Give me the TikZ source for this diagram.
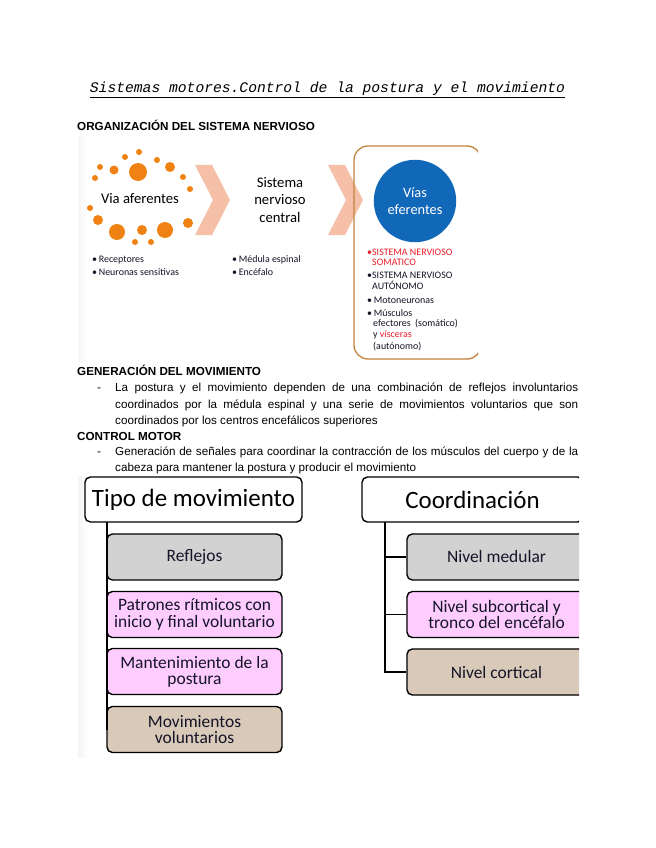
\documentclass[tikz,border=0pt]{standalone}
\usepackage{fontspec}
\setmainfont{Liberation Sans}
\newfontfamily\calfont{Carlito}
\newfontfamily\monofont{Liberation Mono}
\definecolor{dotor}{RGB}{240,130,20}
\definecolor{chev}{RGB}{246,192,168}
\definecolor{framec}{RGB}{196,128,56}
\definecolor{vblue}{RGB}{18,104,184}
\definecolor{vred}{RGB}{232,30,40}
\definecolor{bgray}{RGB}{210,210,210}
\definecolor{bpink}{RGB}{255,204,255}
\definecolor{btan}{RGB}{217,201,184}
\definecolor{bltext}{RGB}{20,20,40}
\tikzset{
  hd/.style={font=\bfseries\fontsize{10.9}{13}\selectfont, inner sep=0pt, anchor=base west},
  body/.style={font=\fontsize{10.9}{13}\selectfont, inner sep=0pt, anchor=base west},
  bigsm/.style={font=\calfont\fontsize{13.7}{15.9}\selectfont, align=center, inner sep=0pt},
  blt/.style={font=\calfont\fontsize{9.3}{10}\selectfont, inner sep=0pt, anchor=west, text=bltext},
  hdbox/.style={draw=black, line width=1.3pt, rounded corners=5pt, fill=white,
     minimum height=42pt, font=\calfont\fontsize{23.3}{26}\selectfont, inner sep=0pt},
  itbox/.style={draw=black, line width=1.3pt, rounded corners=5pt,
     minimum height=43pt, font=\calfont\fontsize{16.3}{15.2}\selectfont, align=center, inner sep=0pt, text=bltext},
  tree/.style={draw=black, line width=1.2pt}
}
\begin{document}
\begin{tikzpicture}[x=0.9344pt,y=-0.9344pt]
\useasboundingbox (0,0) rectangle (655,848);
\fill[white] (0,0) rectangle (655,848);

% title
\node[font=\monofont\itshape\fontsize{13.7}{16}\selectfont, anchor=base, inner sep=0pt] (title) at (327.5,93)
  {\underline{Sistemas motores.Control de la postura y el movimiento}};

\node[hd] (h1) at (77,131) {ORGANIZACIÓN DEL SISTEMA NERVIOSO};

% top picture
\begin{scope}
\clip (78,137) rectangle (478,362);
\shade[left color=gray!7, right color=white] (78,137) rectangle (88,362);
\fill[chev] (195,165) -- (212,165) -- (230,200) -- (212,235) -- (195,235) -- (213,200) -- cycle;
\fill[chev] (328,165) -- (345,165) -- (363,200) -- (345,235) -- (328,235) -- (346,200) -- cycle;
\draw[framec, line width=1.2pt, rounded corners=13pt] (354,146) rectangle (481,359);
\foreach \x/\y/\r in {139/152/3, 125/157/3, 157/160/3, 100/167/3, 114/170/4.5, 138/172/9,
  170/167/5, 95/178/3, 183/177/3, 190/189/3, 90/208/3, 98/220/5, 188/223/5, 117/232/8,
  142/230/5, 165/230/8, 135/242/3, 151/242/3}
  \fill[dotor] (\x,\y) circle[radius=\r*0.9344pt];
\node[bigsm] (afer) at (140,199) {Via aferentes};
\node[bigsm] (snc) at (280,200) {Sistema\\nervioso\\central};
\node[circle, fill=vblue, minimum size=77pt, inner sep=0pt, text=white,
  font=\calfont\fontsize{13.4}{15.9}\selectfont, align=center] (vias) at (415,201) {Vías\\eferentes};
\node[blt] (l1) at (92,260) {•\,Receptores};
\node[blt] (l2) at (92,272) {•\,Neuronas sensitivas};
\node[blt] (m1) at (232,260) {•\,Médula espinal};
\node[blt] (m2) at (232,272) {•\,Encéfalo};
\node[blt, text=vred] (r1) at (367,252) {•SISTEMA NERVIOSO};
\node[blt, text=vred] (r2) at (372,262) {SOMATICO};
\node[blt] (r3) at (367,275) {•SISTEMA NERVIOSO};
\node[blt] (r4) at (372,285) {AUTÓNOMO};
\node[blt] (r5) at (367,300) {•\,Motoneuronas};
\node[blt] (r6) at (367,313) {•\,Músculos};
\node[blt] (r7) at (373,324) {efectores\ \ (somático)};
\node[blt] (r8) at (373,335) {y \textcolor{vred}{vísceras}};
\node[blt] (r9) at (373,347) {(autónomo)};
\end{scope}

% text section
\node[hd] (h2) at (77,375) {GENERACIÓN DEL MOVIMIENTO};
\node[body] (d1) at (97,391) {-};
\node[body] (t1) at (115,391) {\makebox[432.6pt][s]{La postura y el movimiento dependen de una combinación de reflejos involuntarios}};
\node[body] (t2) at (115,408) {\makebox[432.6pt][s]{coordinados por la médula espinal y una serie de movimientos voluntarios que son}};
\node[body] (t3) at (115,424) {coordinados por los centros encefálicos superiores};
\node[hd] (h3) at (77,440) {CONTROL MOTOR};
\node[body] (d2) at (97,455) {-};
\node[body] (t4) at (115,455) {\makebox[432.6pt][s]{Generación de señales para coordinar la contracción de los músculos del cuerpo y de la}};
\node[body] (t5) at (115,471) {cabeza para mantener la postura y producir el movimiento};

% bottom picture
\begin{scope}
\clip (78,476) rectangle (579,757);
\shade[left color=gray!8, right color=white] (78,476) rectangle (88,757);
\node[hdbox, minimum width=202.8pt] (tipo) at (193.5,499.5) {Tipo de movimiento};
\node[itbox, fill=bgray, minimum width=163.5pt] (a1) at (194.5,557) {Reflejos};
\node[itbox, fill=bpink, minimum width=163.5pt] (a2) at (194.5,614.5) {Patrones rítmicos con\\inicio y final voluntario};
\node[itbox, fill=bpink, minimum width=163.5pt] (a3) at (194.5,671.5) {Mantenimiento\ de la\\postura};
\node[itbox, fill=btan, minimum width=163.5pt] (a4) at (194.5,729.5) {Movimientos\\voluntarios};
\coordinate (ltop) at (107,522);
\draw[tree] (ltop) -- (ltop |- a4.west);

\node[hdbox, minimum width=206.5pt] (coord) at (472.5,499.5) {Coordinación};
\node[itbox, fill=bgray, minimum width=167.3pt] (b1) at (496.5,557) {Nivel medular};
\node[itbox, fill=bpink, minimum width=167.3pt] (b2) at (496.5,614.5) {Nivel subcortical y\\tronco del encéfalo};
\node[itbox, fill=btan, minimum width=167.3pt] (b3) at (496.5,672) {Nivel cortical};
\coordinate (rtop) at (385,522);
\draw[tree] (rtop) |- (b3.west);
\draw[tree] (rtop |- b1.west) -- (b1.west);
\draw[tree] (rtop |- b2.west) -- (b2.west);
\end{scope}
\end{tikzpicture}
\end{document}
